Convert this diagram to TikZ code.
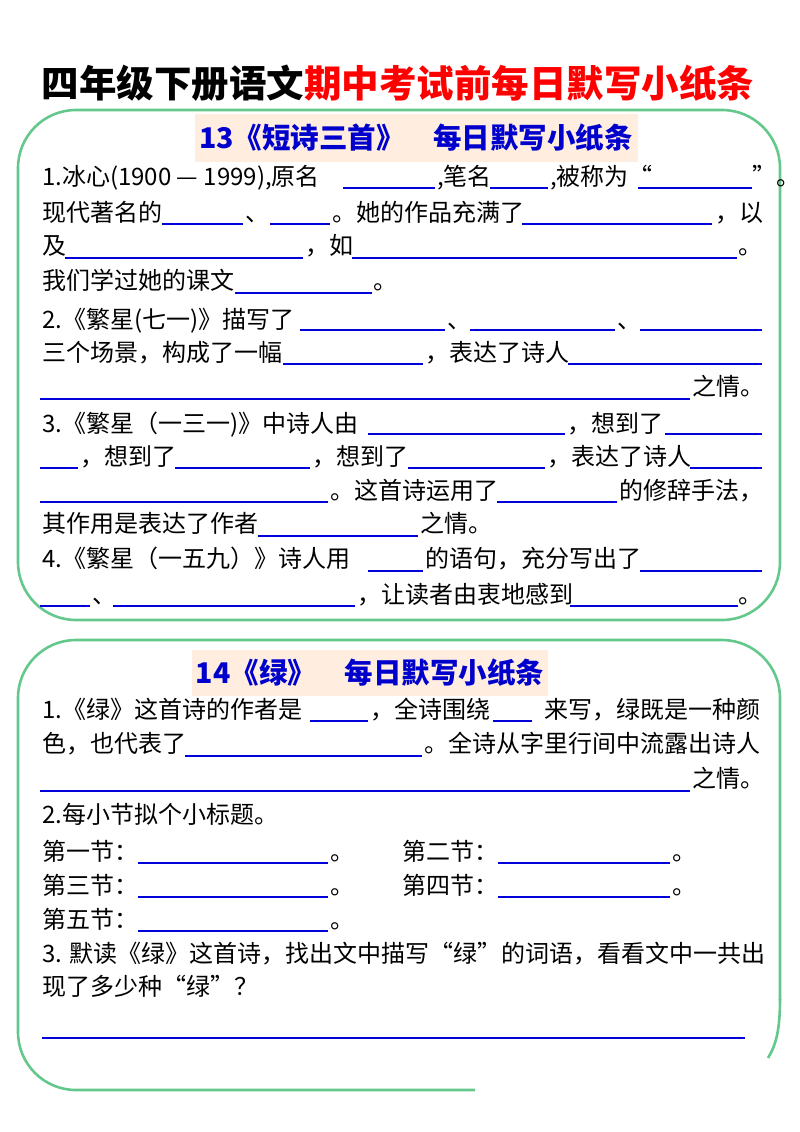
\documentclass[tikz,border=0pt]{standalone}
\usepackage{fontspec}
\setmainfont{Noto Sans CJK SC}
\begin{document}
\begin{tikzpicture}[x=1pt,y=-1pt,
  t/.style={anchor=base west,inner sep=0pt,font=\fontsize{24}{26}\selectfont},
  bl/.style={draw=blue!85!black,line width=1.1pt},
  box/.style={line width=2.6pt,rounded corners=58pt},
  hdr/.style={fill=red!10!orange!12!white,draw=none},
  ht/.style={anchor=base,inner sep=0pt,text=blue!80!black,font=\fontsize{28.5}{30}\selectfont\bfseries}]
\useasboundingbox (0,0) rectangle (800,1132);
\definecolor{gr}{RGB}{100,200,140}
\tikzset{box/.append style={draw=gr}}
% title
\node[anchor=base,inner sep=0pt,font=\fontsize{37.5}{40}\selectfont\bfseries] (title) at (398,97) {四年级下册语文\textcolor{red}{期中考试前每日默写小纸条}};
% box 1
\draw[box] (18,620) rectangle (780,110);
\fill[hdr] (195,114) rectangle (638,162);
\node[ht] (h1) at (416,148) {13《短诗三首》\quad 每日默写小纸条};
\newcommand\ul[3]{\draw[bl] (#1,#3) -- (#2,#3);}
\newcommand\tx[3]{\node[t] at (#1,#2) {#3};}
\tx{42}{185}{1.冰心(1900 — 1999),原名}\ul{343}{435}{188}
\tx{437}{185}{,笔名}\ul{490}{548}{188}
\tx{550}{185}{,被称为“}\ul{638}{752}{188}\tx{752}{185}{”。}
\tx{42}{221}{现代著名的}\ul{162}{243}{224}\tx{245}{221}{、}\ul{270}{330}{224}
\tx{332}{221}{。她的作品充满了}\ul{522}{712}{224}\tx{715}{221}{，以}
\tx{42}{254}{及}\ul{65}{303}{258}\tx{305}{254}{，如}\ul{352}{737}{258}\tx{738}{254}{。}
\tx{42}{289}{我们学过她的课文}\ul{235}{372}{293}\tx{373}{289}{。}
\tx{42}{328}{2.《繁星(七一)》描写了}\ul{300}{445}{330}\tx{447}{328}{、}\ul{470}{615}{330}\tx{617}{328}{、}\ul{640}{762}{330}
\tx{42}{361}{三个场景，构成了一幅}\ul{283}{423}{364}\tx{425}{361}{，表达了诗人}\ul{568}{762}{364}
\ul{40}{690}{399}\tx{692}{395}{之情。}
\tx{42}{432}{3.《繁星（一三一)》中诗人由}\ul{368}{565}{434}\tx{567}{432}{，想到了}\ul{665}{762}{434}
\ul{40}{78}{468}\tx{80}{465}{，想到了}\ul{175}{310}{468}\tx{312}{465}{，想到了}\ul{408}{545}{468}\tx{547}{465}{，表达了诗人}\ul{690}{762}{468}
\ul{40}{328}{502}\tx{330}{499}{。这首诗运用了}\ul{497}{617}{502}\tx{619}{499}{的修辞手法，}
\tx{42}{532}{其作用是表达了作者}\ul{258}{418}{536}\tx{420}{532}{之情。}
\tx{42}{567}{4.《繁星（一五九）》诗人用}\ul{368}{423}{571}\tx{425}{567}{的语句，充分写出了}\ul{640}{762}{571}
\ul{40}{90}{606}\tx{92}{603}{、}\ul{113}{355}{606}\tx{357}{603}{，让读者由衷地感到}\ul{570}{738}{606}\tx{738}{603}{。}
% box 2
\draw[box] (475,1090) -- (18,1090) -- (18,640) -- (780,640) -- (780,1000);
\draw[draw=gr,line width=2.6pt] (780,999) .. controls (780,1030) and (776,1045) .. (768,1058);
\fill[hdr] (192,650) rectangle (548,696);
\node[ht] (h2) at (370,683) {14《绿》\quad 每日默写小纸条};
\tx{42}{718}{1.《绿》这首诗的作者是}\ul{310}{368}{721}\tx{370}{718}{，全诗围绕}\ul{493}{532}{721}\tx{544}{718}{来写，绿既是一种颜}
\tx{42}{752}{色，也代表了}\ul{185}{422}{756}\tx{424}{752}{。全诗从字里行间中流露出诗人}
\ul{40}{690}{791}\tx{692}{787}{之情。}
\tx{42}{823}{2.每小节拟个小标题。}
\tx{42}{860}{第一节：}\ul{138}{328}{863}\tx{330}{860}{。}\tx{402}{860}{第二节：}\ul{498}{670}{863}\tx{672}{860}{。}
\tx{42}{894}{第三节：}\ul{138}{328}{897}\tx{330}{894}{。}\tx{402}{894}{第四节：}\ul{498}{670}{897}\tx{672}{894}{。}
\tx{42}{928}{第五节：}\ul{138}{328}{931}\tx{330}{928}{。}
\tx{42}{962}{3. 默读《绿》这首诗，找出文中描写“绿”的词语，看看文中一共出}
\tx{42}{995}{现了多少种“绿”？}
\ul{42}{745}{1038}
\end{tikzpicture}
\end{document}
